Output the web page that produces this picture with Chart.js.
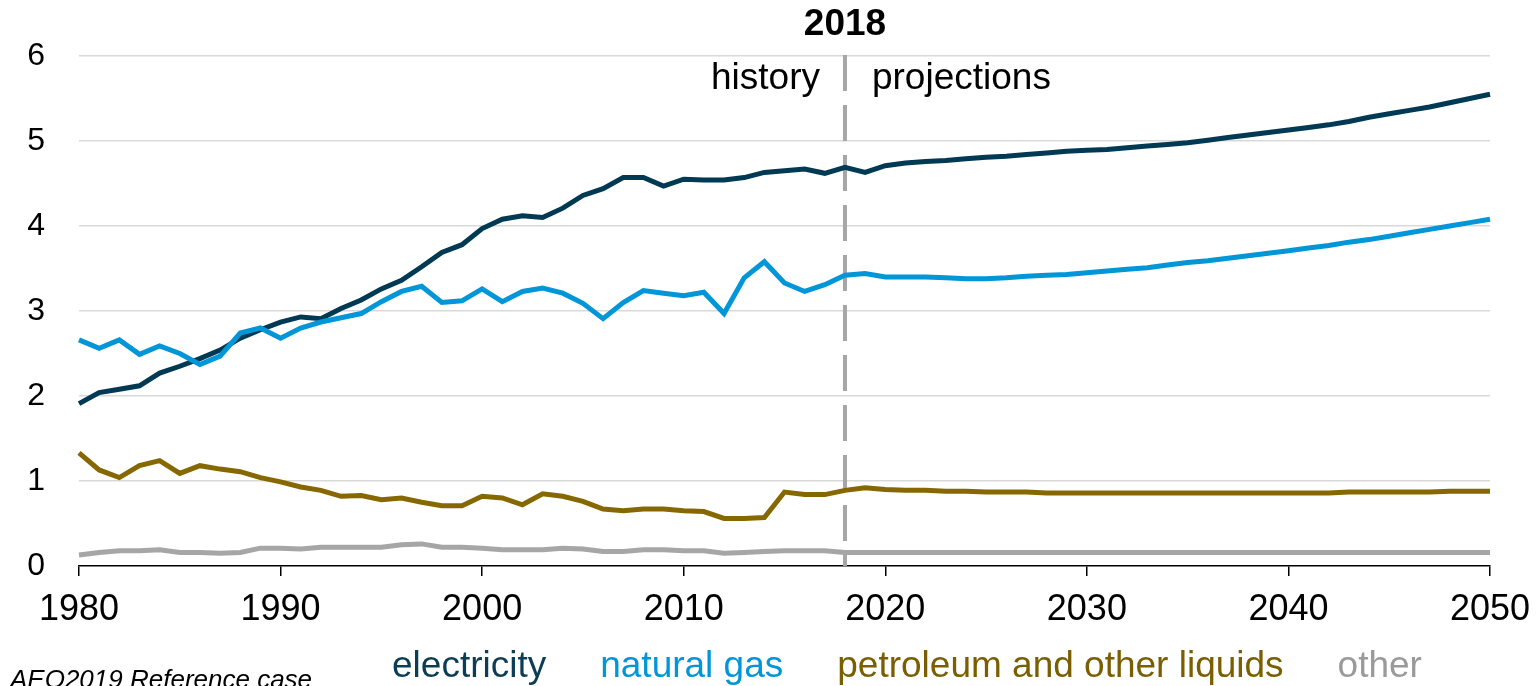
<!DOCTYPE html>
<html>
<head>
<meta charset="utf-8">
<script src="https://cdn.jsdelivr.net/npm/chart.js@4/dist/chart.umd.min.js"></script>
<style>
    html, body { margin: 0; padding: 0; background: #fff; }
    #chart { display: block; }
</style>
</head>
<body>
<canvas id="chart" width="1538" height="686"></canvas>
<script>
const years = [];
for (let y = 1980; y <= 2050; y++) years.push(String(y));

const yTicks = [0, 1, 2, 3, 4, 5, 6];
const splitYear = '2018';

const electricity = [
    1.91, 2.04, 2.08, 2.12, 2.27, 2.35, 2.44, 2.54, 2.68, 2.78,
    2.87, 2.93, 2.91, 3.03, 3.13, 3.26, 3.36, 3.52, 3.69, 3.78,
    3.97, 4.08, 4.12, 4.10, 4.21, 4.36, 4.44, 4.57, 4.57, 4.47,
    4.55, 4.54, 4.54, 4.57, 4.63, 4.65, 4.67, 4.62, 4.69, 4.63,
    4.71, 4.74, 4.76, 4.77, 4.79, 4.81, 4.82, 4.84, 4.86, 4.88,
    4.89, 4.90, 4.92, 4.94, 4.96, 4.98, 5.01, 5.04, 5.07, 5.10,
    5.13, 5.16, 5.19, 5.23, 5.28, 5.32, 5.36, 5.40, 5.45, 5.50,
    5.55
];

const naturalGas = [
    2.66, 2.56, 2.66, 2.49, 2.59, 2.50, 2.37, 2.47, 2.74, 2.80,
    2.68, 2.80, 2.87, 2.92, 2.97, 3.11, 3.23, 3.29, 3.10, 3.12,
    3.26, 3.11, 3.23, 3.27, 3.21, 3.09, 2.91, 3.10, 3.24, 3.21,
    3.18, 3.22, 2.97, 3.39, 3.58, 3.33, 3.23, 3.31, 3.42, 3.44,
    3.40, 3.40, 3.40, 3.39, 3.38, 3.38, 3.39, 3.41, 3.42, 3.43,
    3.45, 3.47, 3.49, 3.51, 3.54, 3.57, 3.59, 3.62, 3.65, 3.68,
    3.71, 3.74, 3.77, 3.81, 3.84, 3.88, 3.92, 3.96, 4.00, 4.04,
    4.08
];

const petroleum = [
    1.33, 1.13, 1.04, 1.18, 1.24, 1.09, 1.18, 1.14, 1.11, 1.04,
    0.99, 0.93, 0.89, 0.82, 0.83, 0.78, 0.80, 0.75, 0.71, 0.71,
    0.82, 0.80, 0.72, 0.85, 0.82, 0.76, 0.67, 0.65, 0.67, 0.67,
    0.65, 0.64, 0.56, 0.56, 0.57, 0.87, 0.84, 0.84, 0.89, 0.92,
    0.90, 0.89, 0.89, 0.88, 0.88, 0.87, 0.87, 0.87, 0.86, 0.86,
    0.86, 0.86, 0.86, 0.86, 0.86, 0.86, 0.86, 0.86, 0.86, 0.86,
    0.86, 0.86, 0.86, 0.87, 0.87, 0.87, 0.87, 0.87, 0.88, 0.88,
    0.88
];

const other = [
    0.13, 0.16, 0.18, 0.18, 0.19, 0.16, 0.16, 0.15, 0.16, 0.21,
    0.21, 0.20, 0.22, 0.22, 0.22, 0.22, 0.25, 0.26, 0.22, 0.22,
    0.21, 0.19, 0.19, 0.19, 0.21, 0.20, 0.17, 0.17, 0.19, 0.19,
    0.18, 0.18, 0.15, 0.16, 0.17, 0.18, 0.18, 0.18, 0.16, 0.16,
    0.16, 0.16, 0.16, 0.16, 0.16, 0.16, 0.16, 0.16, 0.16, 0.16,
    0.16, 0.16, 0.16, 0.16, 0.16, 0.16, 0.16, 0.16, 0.16, 0.16,
    0.16, 0.16, 0.16, 0.16, 0.16, 0.16, 0.16, 0.16, 0.16, 0.16,
    0.16
];

const seriesNames = ['electricity', 'natural gas', 'petroleum and other liquids', 'other'];
const lineColors = ['#003953', '#0096D7', '#876800', '#A6A6A6'];
const legendColors = ['#0B3D55', '#0096D7', '#7A5E00', '#9A9A9A'];

const FONT = "'Liberation Sans', Arial, sans-serif";

// dashed 2018 divider with labels, drawn under the lines
const dividerPlugin = {
    id: 'divider',
    beforeDatasetsDraw(chart) {
        const { ctx, chartArea, scales } = chart;
        const x = scales.x.getPixelForValue(years.indexOf(splitYear));
        ctx.save();
        ctx.strokeStyle = '#A6A6A6';
        ctx.lineWidth = 4;
        ctx.setLineDash([36, 14]);
        ctx.beginPath();
        ctx.moveTo(x, chartArea.top - 1);
        ctx.lineTo(x, chartArea.bottom);
        ctx.stroke();
        ctx.restore();
    },
    afterDraw(chart) {
        const { ctx, scales } = chart;
        const x = scales.x.getPixelForValue(years.indexOf(splitYear));
        ctx.save();
        ctx.fillStyle = '#000';
        ctx.textBaseline = 'alphabetic';
        ctx.font = 'bold 37px ' + FONT;
        ctx.textAlign = 'center';
        ctx.fillText(splitYear, x, 35);
        ctx.font = '37px ' + FONT;
        ctx.textAlign = 'right';
        ctx.fillText('history', x - 25, 89);
        ctx.textAlign = 'left';
        ctx.fillText('projections', x + 27, 89);

        // legend row
        ctx.font = '37px ' + FONT;
        let lx = 392;
        seriesNames.forEach((name, i) => {
            ctx.fillStyle = legendColors[i];
            ctx.fillText(name, lx, 677);
            lx += ctx.measureText(name).width + 54;
        });

        ctx.fillStyle = '#000';
        ctx.font = 'italic 26px ' + FONT;
        ctx.fillText('AEO2019 Reference case', 10, 688);
        ctx.restore();
    }
};

const datasets = [electricity, naturalGas, petroleum, other].map((vals, i) => ({
    label: seriesNames[i],
    data: vals,
    borderColor: lineColors[i],
    borderWidth: 5,
    pointRadius: 0,
    tension: 0,
    fill: false
})).reverse();

new Chart(document.getElementById('chart'), {
    type: 'line',
    data: { labels: years, datasets },
    options: {
        responsive: false,
        animation: false,
        layout: { padding: { top: 56, right: 48, left: 0, bottom: 0 } },
        plugins: { legend: { display: false }, tooltip: { enabled: false } },
        scales: {
            x: {
                offset: false,
                afterFit: s => { s.height = 120; s.paddingLeft = 0; s.paddingRight = 0; },
                border: { display: true, color: '#000', width: 1.5 },
                grid: {
                    drawOnChartArea: false,
                    drawTicks: true,
                    tickLength: 10,
                    color: ctx => (ctx.tick && Number(years[ctx.tick.value]) % 10 === 0) ? '#000' : 'rgba(0,0,0,0)',
                    lineWidth: 1.5
                },
                ticks: {
                    autoSkip: false,
                    maxRotation: 0,
                    padding: 12,
                    color: '#000',
                    font: { family: FONT, size: 36 },
                    callback: (v, i) => Number(years[i]) % 10 === 0 ? years[i] : ''
                }
            },
            y: {
                min: yTicks[0],
                max: yTicks[yTicks.length - 1],
                afterFit: s => { s.width = 79; },
                afterBuildTicks: s => { s.ticks = yTicks.map(v => ({ value: v })); },
                border: { display: false },
                grid: {
                    drawTicks: false,
                    color: ctx => ctx.tick && ctx.tick.value === 0 ? 'rgba(0,0,0,0)' : '#D9D9D9',
                    lineWidth: 1.5
                },
                ticks: {
                    padding: 34,
                    color: '#000',
                    font: { family: FONT, size: 32 }
                }
            }
        }
    },
    plugins: [dividerPlugin]
});
</script>
</body>
</html>
